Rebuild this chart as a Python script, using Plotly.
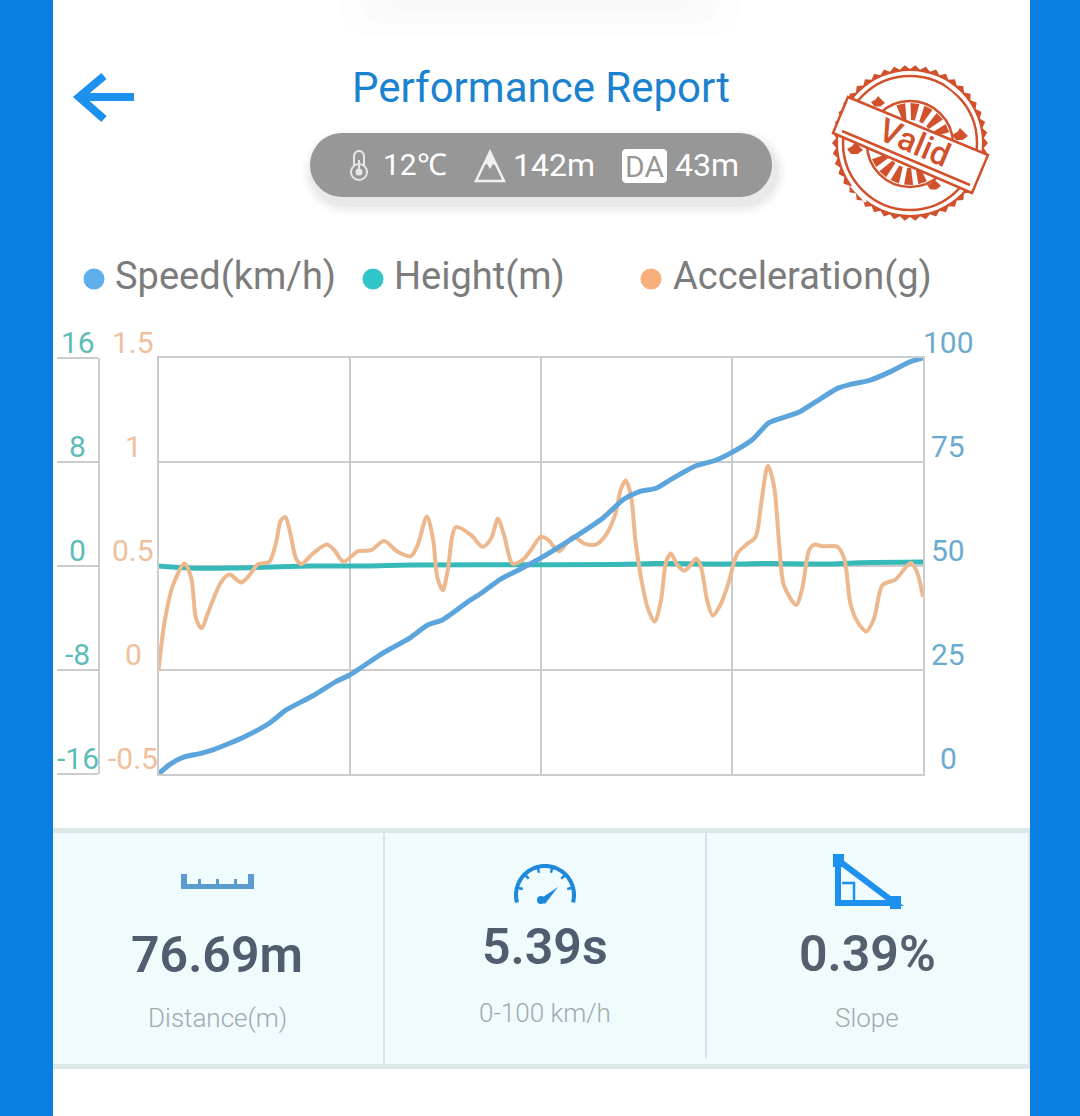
import math
import plotly.graph_objects as go

W, H = 1080, 1116

# ---------- chart data (x = percent of the run) ----------
accel_x = [0, .8, 1.9, 3.4, 4.3, 4.9, 5.6, 6.7, 8.2, 9.3, 10.8, 11.9, 13.0, 14.5, 15.4, 16.0, 16.6, 17.2, 18.0, 18.7,
           20.2, 22.0, 23.0, 24.2, 26.1, 27.8, 29.5, 31.3, 33.0, 33.9, 35.1, 35.9, 36.5, 37.2, 37.8, 38.9, 40.9, 42.4,
           43.5, 44.4, 45.2, 46.3, 47.6, 48.7, 50.0, 50.9, 52.4, 54.2, 55.7, 57.2, 58.5, 59.7, 60.5, 61.1, 61.8, 62.4,
           63.1, 64.0, 64.9, 65.7, 66.4, 67.0, 67.9, 68.8, 69.6, 70.3, 70.9, 71.8, 72.5, 73.6, 74.6, 75.7, 76.8, 78.1,
           78.8, 79.7, 80.5, 81.2, 81.8, 83.4, 84.2, 85.1, 85.8, 86.8, 88.8, 89.7, 90.5, 91.4, 92.6, 93.6, 94.7, 96.4,
           98.4, 99.2, 100]
accel_y = [0, .233, .408, .512, .44, .249, .201, .297, .424, .459, .421, .456, .509, .52, .616, .719, .735, .663, .536, .509,
           .56, .603, .576, .52, .571, .576, .62, .568, .547, .6, .738, .632, .44, .384, .472, .687, .648, .592,
           .632, .727, .648, .512, .528, .576, .64, .628, .571, .64, .608, .603, .648, .743, .871, .911, .839, .616,
           .448, .297, .233, .329, .52, .56, .504, .477, .504, .536, .504, .329, .262, .321, .424, .56, .6, .64,
           .791, .982, .887, .6, .408, .313, .392, .576, .603, .595, .592, .536, .321, .233, .185, .249, .408, .435,
           .515, .472, .352]
speed_x = [0, 1.4, 3.2, 5.4, 7.1, 9.3, 11.2, 14.5, 16.7, 20.2, 23.2, 25.0, 29.3, 32.8, 35.2, 37.2, 40.7, 42.4, 44.8, 47.6,
           49.8, 53.7, 58.1, 60.9, 62.9, 65.1, 67.2, 70.3, 72.7, 74.6, 77.7, 79.8, 81.6, 83.8, 86.0, 88.8, 90.4, 93.0,
           95.6, 98.2, 100]
speed_y = [0, 2.2, 4.0, 4.9, 5.8, 7.4, 8.9, 12.2, 15.4, 18.8, 22.2, 23.8, 29.0, 32.6, 35.8, 37.1, 41.7, 43.7, 46.9, 49.5,
           51.7, 56.1, 61.5, 66.1, 67.9, 68.7, 71.0, 74.1, 75.3, 76.9, 80.4, 84.4, 85.6, 87.0, 89.5, 92.7, 93.6, 94.6,
           96.6, 99.0, 100]
height_x = [0, 4, 10, 20, 27, 33, 45, 60, 65, 75, 80, 87, 92, 100]
height_y = [0.0, -.15, -.15, 0.0, 0.0, .08, .1, .12, .2, .15, .2, .15, .25, .3]

x_grid = [0, 25, 50, 75, 100]
speed_ticks = [0, 25, 50, 75, 100]
accel_ticks = [-0.5, 0, 0.5, 1, 1.5]
height_ticks = [-16, -8, 0, 8, 16]

series_names = ["Speed(km/h)", "Height(m)", "Acceleration(g)"]
title_text = "Performance Report"
kpi_values = ["76.69m", "5.39s", "0.39%"]
kpi_labels = ["Distance(m)", "0-100 km/h", "Slope"]
pill_texts = ["12℃", "142m", "43m"]

# ---------- colours ----------
BLUE_BAND = "#0A7FE3"
C_SPEED, C_HEIGHT, C_ACCEL = "#5CA5DC", "#38B9B9", "#EDB88E"
GRID = "#CCCCCC"
FONT = "Roboto"


def X(p):
    return p / W


def Y(p):
    return 1 - p / H


def P(*pts, close=False):
    s = "M " + " L ".join(f"{X(a):.5f},{Y(b):.5f}" for a, b in pts)
    return s + (" Z" if close else "")


shapes, ann = [], []


def rect(x0, y0, x1, y1, fill):
    shapes.append(dict(type="rect", xref="paper", yref="paper", x0=X(x0), x1=X(x1), y0=Y(y0), y1=Y(y1),
                       fillcolor=fill, line_width=0, layer="below"))


def path(d, fill=None, color=None, width=0):
    sh = dict(type="path", xref="paper", yref="paper", path=d, layer="below",
              line=dict(color=color or "rgba(0,0,0,0)", width=width))
    if fill:
        sh["fillcolor"] = fill
    shapes.append(sh)


def circle(cx, cy, r, fill=None, color=None, width=0):
    sh = dict(type="circle", xref="paper", yref="paper", x0=X(cx - r), x1=X(cx + r), y0=Y(cy + r), y1=Y(cy - r),
              layer="below", line=dict(color=color or "rgba(0,0,0,0)", width=width))
    if fill:
        sh["fillcolor"] = fill
    shapes.append(sh)


def text(x, y, s, size, color, weight=None, angle=0, anchor="center"):
    f = dict(family=FONT, size=size, color=color)
    if weight:
        f["weight"] = weight
    ann.append(dict(xref="paper", yref="paper", x=X(x), y=Y(y), text=s, showarrow=False, font=f,
                    xanchor=anchor, yanchor="middle", textangle=angle))


def pill(x0, y0, x1, y1, r):
    n = 10
    pts = []
    for cx, cy, a0 in [(x1 - r, y0 + r, -90), (x1 - r, y1 - r, 0), (x0 + r, y1 - r, 90), (x0 + r, y0 + r, 180)]:
        for i in range(n + 1):
            a = math.radians(a0 + 90 * i / n)
            pts.append((cx + r * math.cos(a), cy + r * math.sin(a)))
    return P(*pts, close=True)


# ---------- page ----------
rect(0, 0, 53, H, BLUE_BAND)
rect(1030, 0, W, H, BLUE_BAND)
path(pill(340, -30, 740, 36, 30), fill="rgba(0,0,0,0.006)")
path(pill(360, -30, 720, 24, 26), fill="rgba(0,0,0,0.008)")
path(pill(385, -30, 695, 12, 20), fill="rgba(0,0,0,0.008)")

# header
path(P((134, 97), (79, 97)), color="#1E90EE", width=8)
path(P((104, 76), (79, 97), (104, 119)), color="#1E90EE", width=8)
text(541, 87, title_text, 42, "#1A82CE")

# info pill with soft shadow
for g, a in [(12, .012), (9, .018), (6, .025), (3, .03)]:
    path(pill(310 - g + 3, 133 - g + 7, 772 + g + 3, 197 + g + 7, 32 + g), fill=f"rgba(0,0,0,{a})")
path(pill(310, 133, 772, 197, 32), fill="#979797")
text(414.5, 165, pill_texts[0], 30, "#FFFFFF")
text(554, 165, pill_texts[1], 32, "#FFFFFF")
text(707, 165, pill_texts[2], 32, "#FFFFFF")
# thermometer icon
path(pill(354, 151, 364, 172, 5), color="#E6E6E6", width=2)
circle(359, 172, 8, fill="#979797", color="#E6E6E6", width=2)
circle(359, 172, 3.5, fill="#E6E6E6")
rect(358, 160, 360, 172, "#E6E6E6")
# mountain icon
path(P((476, 181), (490, 152), (504, 181), close=True), color="#F0F0F0", width=2.5)
path(P((483, 165), (490, 152), (498, 167), (493, 164), (490, 169), (487, 164), close=True), fill="#F0F0F0")
# DA badge
path(pill(622, 149, 667, 183, 4), fill="#FFFFFF")
text(644.5, 167, "DA", 30, "#979797")

# legend
LEG = [(94, 115, "#5FAEEC"), (373, 394, "#2FC5C9"), (651, 673, "#F7B07C")]
for (cx, tx, col), name in zip(LEG, series_names):
    circle(cx, 279, 10.5, fill=col)
    text(tx - 2, 276, name, 38, "#7C7C7C", anchor="left")

# stamp
RED = "#D2512D"
cx, cy = 910, 143
teeth = []
for i in range(92):
    r = 78 if i % 2 == 0 else 74
    a = 2 * math.pi * i / 92
    teeth.append((cx + r * math.cos(a), cy + r * math.sin(a)))
path(P(*teeth, close=True), fill=RED)
circle(cx, cy, 72, fill="#FFFFFF")
circle(cx, cy, 67, color=RED, width=2.5)
circle(cx, cy + 1, 43, color=RED, width=2.5)
for deg in [-125, -105, -85, -65, -45, 50, 70, 90, 110, 130]:
    a = math.radians(deg + 22)
    b, c = 0.11, 0.08
    path(P((cx + 41 * math.cos(a - b), cy + 1 + 41 * math.sin(a - b)),
           (cx + 41 * math.cos(a + b), cy + 1 + 41 * math.sin(a + b)),
           (cx + 24 * math.cos(a + c), cy + 1 + 24 * math.sin(a + c)),
           (cx + 24 * math.cos(a - c), cy + 1 + 24 * math.sin(a - c)), close=True), fill=RED)
# worn ink blotches and scratches
for bx, by, s in [(960, 136, 8), (855, 150, 8), (934, 186, 7), (878, 103, 7)]:
    path(P((bx - s, by - 1), (bx - s / 3, by - s / 2), (bx, by - s), (bx + s / 2, by - s / 2), (bx + s, by),
           (bx + s / 3, by + s / 2), (bx - s / 2, by + s / 2), close=True), fill=RED)
path(P((946, 83), (962, 96)), color="#FFFFFF", width=3)
path(P((851, 186), (866, 202)), color="#FFFFFF", width=2.5)
path(P((848, 97), (988, 155), (972, 193), (833, 133), close=True), fill="#FFFFFF", color=RED, width=2.5)
path(P((842, 131), (970, 185)), color=RED, width=2.5)
text(915, 142, "Valid", 33, RED, weight=500, angle=23)

# bottom panel
rect(53, 828, 1030, 1069, "#DCE8E8")
rect(53, 833, 1028, 1064, "#EFFBFD")
rect(383, 833, 385, 1064, "#D5E4E4")
rect(705, 833, 707, 1058, "#D5E4E4")

text(217, 955, kpi_values[0], 50, "#4F5D6E", weight=600)
text(545, 947, kpi_values[1], 50, "#4F5D6E", weight=600)
text(867, 954, kpi_values[2], 50, "#55606E", weight=600)
text(217, 1018, kpi_labels[0], 26, "#A2A9AE", weight=300)
text(544.5, 1013, kpi_labels[1], 26, "#A2A9AE", weight=300)
text(867, 1018, kpi_labels[2], 26, "#A2A9AE", weight=300)

# ruler icon
RULER = "#5B9BD0"
rect(181, 884, 254, 889, RULER)
rect(181, 874, 187, 889, RULER)
rect(248, 874, 254, 889, RULER)
for tx in (198, 216, 234):
    rect(tx, 879, tx + 3, 889, RULER)
# gauge icon
G = "#1E88DC"
gx, gy, gr = 545, 895, 29
arc = [(gx + gr * math.cos(math.radians(a)), gy + gr * math.sin(math.radians(a))) for a in range(165, 376, 5)]
path(P(*arc), color=G, width=4)
for a in range(195, 346, 30):
    ra = math.radians(a)
    path(P((gx + 29 * math.cos(ra), gy + 29 * math.sin(ra)), (gx + 23 * math.cos(ra), gy + 23 * math.sin(ra))),
         color=G, width=2.5)
path(P((540, 899), (558, 887), (545, 904), close=True), fill=G)
circle(541, 900, 4, fill=G)
# slope icon
S = "#1E90EE"
path(P((838, 860), (838, 903), (895, 903), close=True), color=S, width=6)
rect(833, 854, 844, 867, S)
rect(890, 896, 901, 909, S)
path(P((842, 883), (854, 883), (854, 900)), color=S, width=2.5)

# axis tick labels, placed from the axis scales
for v in height_ticks:
    ann.append(dict(xref="paper", yref="y", x=X(78), y=v, yshift=15.5, text=str(v), showarrow=False,
                    xanchor="center", yanchor="middle", font=dict(family=FONT, size=30, color="#5CBDB8")))
for v in accel_ticks:
    ann.append(dict(xref="paper", yref="y2", x=X(133), y=v, yshift=15.5, text=str(v), showarrow=False,
                    xanchor="center", yanchor="middle", font=dict(family=FONT, size=30, color="#EFC09A")))
for v in speed_ticks:
    ann.append(dict(xref="paper", yref="y3", x=X(948), y=v, yshift=15.5, text=str(v), showarrow=False,
                    xanchor="center", yanchor="middle", font=dict(family=FONT, size=30, color="#6BABCF")))

fig = go.Figure()
fig.add_trace(go.Scatter(x=height_x, y=height_y, name=series_names[1], yaxis="y", mode="lines",
                         line=dict(color=C_HEIGHT, width=5, shape="spline")))
fig.add_trace(go.Scatter(x=accel_x, y=accel_y, name=series_names[2], yaxis="y2", mode="lines",
                         line=dict(color=C_ACCEL, width=4, shape="spline", smoothing=0.8)))
fig.add_trace(go.Scatter(x=speed_x, y=speed_y, name=series_names[0], yaxis="y3", mode="lines",
                         line=dict(color=C_SPEED, width=5, shape="spline", smoothing=0.6)))

dom = [Y(774), Y(358)]
fig.update_layout(
    width=W, height=H, margin=dict(l=0, r=0, t=0, b=0), showlegend=False,
    paper_bgcolor="#FFFFFF", plot_bgcolor="rgba(0,0,0,0)", font=dict(family=FONT),
    xaxis=dict(domain=[X(158.5), X(923)], range=[0, 100], tickvals=x_grid, showticklabels=False, ticks="",
               showgrid=True, gridcolor=GRID, gridwidth=2, zeroline=False,
               showline=True, linecolor=GRID, linewidth=2, mirror=True),
    yaxis=dict(domain=dom, range=[-16, 16], tickvals=height_ticks, showticklabels=False, anchor="free",
               position=X(99), side="left", ticks="outside", ticklen=41, tickwidth=1.5, tickcolor=GRID,
               showline=True, linecolor=GRID, linewidth=1.5, showgrid=True, gridcolor=GRID, gridwidth=2,
               zeroline=False),
    yaxis2=dict(domain=dom, range=[-0.5, 1.5], tickvals=accel_ticks, showticklabels=False, overlaying="y",
                side="left", anchor="x", ticks="", showgrid=False, zeroline=False,
                showline=True, linecolor=GRID, linewidth=2),
    yaxis3=dict(domain=dom, range=[0, 100], tickvals=speed_ticks, showticklabels=False, overlaying="y",
                side="right", anchor="x", ticks="", showgrid=False, zeroline=False,
                showline=True, linecolor=GRID, linewidth=2),
    shapes=shapes, annotations=ann,
)

fig.write_html("out.html", config=dict(displayModeBar=False),
               post_script="document.body.style.margin='0';document.documentElement.style.overflow='hidden';")
